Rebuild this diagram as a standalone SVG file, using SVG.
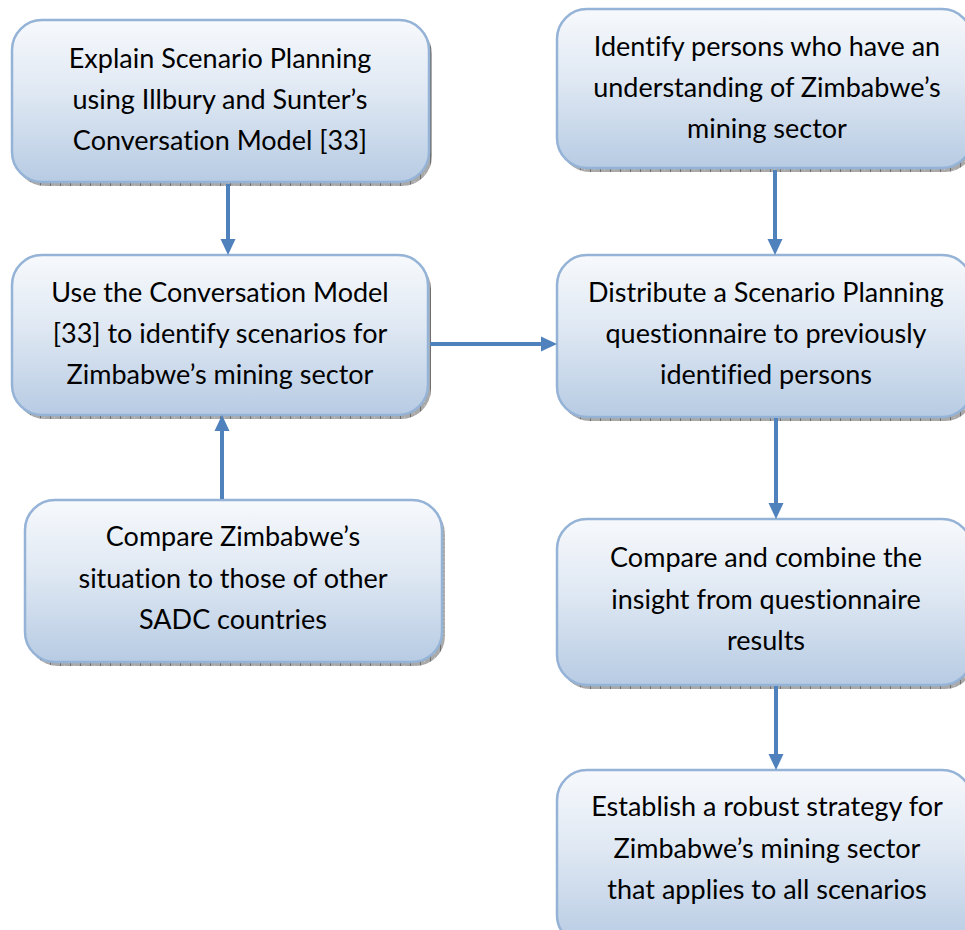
<svg xmlns="http://www.w3.org/2000/svg" width="965" height="930" viewBox="0 0 965 930">
  <defs>
    <linearGradient id="boxFill" x1="0" y1="0" x2="0" y2="1">
      <stop offset="0" stop-color="#f7f9fc"/>
      <stop offset="0.45" stop-color="#dfe8f3"/>
      <stop offset="1" stop-color="#b7cbe3"/>
    </linearGradient>
    <pattern id="shadowDots" width="10" height="4" patternUnits="userSpaceOnUse">
      <rect width="10" height="4" fill="#a9a9a9"/>
      <rect x="0" y="0" width="1" height="4" fill="#6f6f6f"/>
      <rect x="4" y="1" width="1" height="1" fill="#c8c8c8"/>
    </pattern>
    <marker id="head" markerUnits="userSpaceOnUse" markerWidth="16" markerHeight="16" refX="0" refY="8" orient="auto" overflow="visible">
      <path d="M0,0.5 L16,8 L0,15.5 z" fill="#4f81bd"/>
    </marker>
    <style>
      .shadow { fill: url(#shadowDots); }
      .box { fill: url(#boxFill); stroke: #95b3d7; stroke-width: 2.5; }
      .label { font-family: "Lato", "Open Sans", "Liberation Sans", sans-serif; font-size: 27px; fill: #000; text-anchor: middle; font-variant-ligatures: none; }
      .link { stroke: #4f81bd; stroke-width: 4; fill: none; marker-end: url(#head); }
    </style>
  </defs>

  <!-- process steps -->
  <g id="explain">
    <rect class="shadow" x="15" y="24" width="417" height="162" rx="30"/>
    <rect class="box" x="12" y="20" width="417" height="162" rx="30"/>
    <text class="label" x="220" y="68">Explain Scenario Planning</text>
    <text class="label" x="220" y="109">using Illbury and Sunter’s</text>
    <text class="label" x="220" y="150">Conversation Model [33]</text>
  </g>

  <g id="identify">
    <rect class="shadow" x="560" y="13" width="415" height="159" rx="30"/>
    <rect class="box" x="557" y="9" width="415" height="159" rx="30"/>
    <text class="label" x="767" y="56">Identify persons who have an</text>
    <text class="label" x="767" y="97">understanding of Zimbabwe’s</text>
    <text class="label" x="767" y="138">mining sector</text>
  </g>

  <g id="use-model">
    <rect class="shadow" x="15" y="259" width="416" height="160" rx="30"/>
    <rect class="box" x="12" y="255" width="416" height="160" rx="30"/>
    <text class="label" x="220" y="302">Use the Conversation Model</text>
    <text class="label" x="220" y="343">[33] to identify scenarios for</text>
    <text class="label" x="220" y="384">Zimbabwe’s mining sector</text>
  </g>

  <g id="distribute">
    <rect class="shadow" x="560" y="259" width="415" height="162" rx="30"/>
    <rect class="box" x="557" y="255" width="415" height="162" rx="30"/>
    <text class="label" x="766" y="302">Distribute a Scenario Planning</text>
    <text class="label" x="766" y="343">questionnaire to previously</text>
    <text class="label" x="766" y="384">identified persons</text>
  </g>

  <g id="compare-sadc">
    <rect class="shadow" x="28" y="504" width="417" height="162" rx="30"/>
    <rect class="box" x="25" y="500" width="417" height="162" rx="30"/>
    <text class="label" x="233" y="546">Compare Zimbabwe’s</text>
    <text class="label" x="233" y="588">situation to those of other</text>
    <text class="label" x="233" y="629">SADC countries</text>
  </g>

  <g id="combine">
    <rect class="shadow" x="560" y="523" width="415" height="166" rx="30"/>
    <rect class="box" x="557" y="519" width="415" height="166" rx="30"/>
    <text class="label" x="766" y="567">Compare and combine the</text>
    <text class="label" x="766" y="609">insight from questionnaire</text>
    <text class="label" x="766" y="650">results</text>
  </g>

  <g id="strategy">
    <rect class="shadow" x="560" y="774" width="415" height="175" rx="30"/>
    <rect class="box" x="557" y="770" width="415" height="175" rx="30"/>
    <text class="label" x="767" y="816">Establish a robust strategy for</text>
    <text class="label" x="767" y="858">Zimbabwe’s mining sector</text>
    <text class="label" x="767" y="899">that applies to all scenarios</text>
  </g>

  <!-- connectors -->
  <g id="connectors">
    <path class="link" d="M228,184 V239"/>
    <path class="link" d="M430,344 H541"/>
    <path class="link" d="M775,170 V239"/>
    <path class="link" d="M776,418 V503"/>
    <path class="link" d="M222,499 V431"/>
    <path class="link" d="M776,686 V754"/>
  </g>
</svg>
